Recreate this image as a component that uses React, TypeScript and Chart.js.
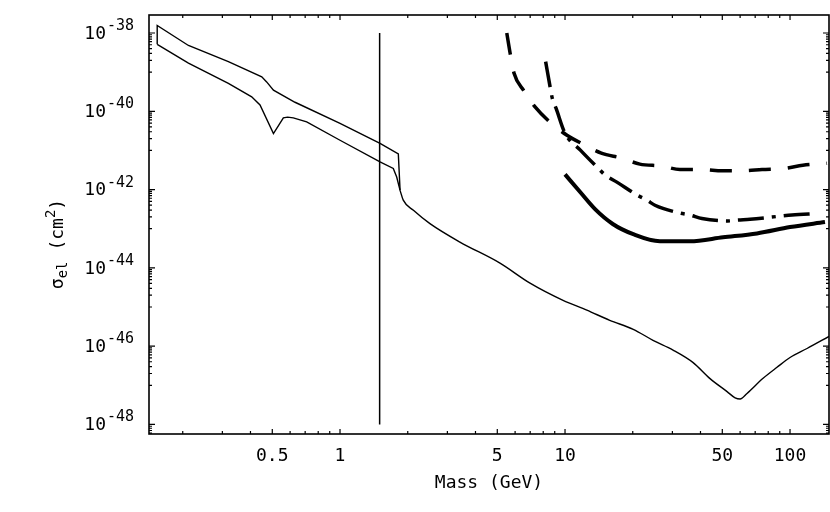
import React, { useEffect, useRef } from 'react';
import { Chart, registerables } from 'chart.js';

Chart.register(...registerables);

// frame limits
const massMin = 0.1416;
const massMax = 149;
const sigmaMin = 5.7e-49;
const sigmaMax = 2.88e-38;

const massTicks = [0.5, 1, 5, 10, 50, 100];
const massMinorTicks = [0.2, 0.3, 0.4, 0.6, 0.7, 0.8, 0.9, 2, 3, 4, 6, 7, 8, 9, 20, 30, 40, 60, 70, 80, 90];
const sigmaTicks = [1e-38, 1e-40, 1e-42, 1e-44, 1e-46, 1e-48];
const sigmaTickPowers = ['-38', '-40', '-42', '-44', '-46', '-48'];

// vertical marker
const markerMass = [1.5, 1.5];
const markerSigma = [1e-38, 1e-48];

// thin band (upper edge starts with the left closing segment)
const bandUpperMass = [0.154, 0.154, 0.212, 0.319, 0.449, 0.472, 0.506, 0.631, 1.0, 1.506, 1.816, 1.849];
const bandUpperSigma = [5.13e-39, 1.55e-38, 4.79e-39, 1.86e-39, 7.59e-40, 5.62e-40, 3.47e-40, 1.7e-40, 4.9e-41, 1.51e-41, 8.13e-42, 9.55e-43];

const bandLowerMass = [0.154, 0.212, 0.319, 0.405, 0.441, 0.506, 0.56, 0.585, 0.62, 0.711, 1.0, 1.506, 1.725, 1.786, 1.849];
const bandLowerSigma = [5.13e-39, 1.7e-39, 5.13e-40, 2.34e-40, 1.45e-40, 2.69e-41, 6.76e-41, 7.1e-41, 6.76e-41, 5.37e-41, 1.82e-41, 5.13e-42, 3.47e-42, 2.09e-42, 9.55e-43];

// thin curve after the two edges meet
const tailMass = [1.849, 1.91, 2.12, 2.51, 3.41, 5.14, 6.99, 9.8, 12.5, 15.8, 20.1, 24.6, 30.2, 37.1, 44.1, 52.5, 57, 60, 64.4, 75.9, 87.5, 100, 119, 149];
const tailSigma = [9.55e-43, 5.37e-43, 2.95e-43, 1.35e-43, 4.57e-44, 1.32e-44, 4.07e-45, 1.48e-45, 8.32e-46, 4.57e-46, 2.69e-46, 1.41e-46, 7.94e-47, 3.8e-47, 1.48e-47, 6.9e-48, 4.79e-48, 4.47e-48, 6.2e-48, 1.51e-47, 2.88e-47, 5.13e-47, 8.71e-47, 1.78e-46];

// long dashed limit
const dashMass = [5.51, 5.7, 5.93, 6.57, 7.36, 8.58, 10.2, 12.0, 14.5, 17.9, 21.5, 27.0, 32.4, 41.0, 49.9, 61.8, 75.1, 95, 114, 146];
const dashSigma = [1.0e-38, 3.09e-39, 9.55e-40, 3.31e-40, 1.29e-40, 5.25e-41, 2.45e-41, 1.45e-41, 8.51e-42, 6.31e-42, 4.47e-42, 3.98e-42, 3.24e-42, 3.24e-42, 3.02e-42, 3.02e-42, 3.24e-42, 3.47e-42, 4.17e-42, 4.68e-42];

// dash-dot limit
const dashDotMass = [8.2, 8.58, 8.78, 9.12, 10.0, 11.7, 13.9, 15.1, 17.0, 20.9, 23.1, 25.1, 32.4, 35.9, 40.6, 53.0, 58.7, 66.4, 90.3, 102, 132];
const dashDotSigma = [1.86e-39, 4.27e-40, 2.14e-40, 1.2e-40, 2.75e-41, 1.02e-41, 3.72e-42, 2.34e-42, 1.55e-42, 7.24e-43, 5.37e-43, 3.98e-43, 2.51e-43, 2.24e-43, 1.82e-43, 1.58e-43, 1.66e-43, 1.74e-43, 2.09e-43, 2.24e-43, 2.45e-43];

// thick solid limit
const solidMass = [10.0, 11.7, 13.6, 16.3, 20.1, 26.4, 35.9, 50.4, 71.3, 100, 143];
const solidSigma = [2.45e-42, 8.51e-43, 3.16e-43, 1.32e-43, 7.24e-44, 4.79e-44, 4.79e-44, 6.03e-44, 7.59e-44, 1.1e-43, 1.48e-43];

const FONT = '"DejaVu Sans Mono", monospace';

const toPoints = (xs: number[], ys: number[]) => xs.map((x, i) => ({ x, y: ys[i] }));

// minor y ticks: 1..9 x 10^(odd) under every labelled power
const sigmaMinorTicks: number[] = [];
for (const major of sigmaTicks) {
    for (let k = 1; k <= 9; k++) {
        const v = (major / 10) * k;
        if (v >= sigmaMin && v < major) sigmaMinorTicks.push(v);
    }
}

const framePlugin = {
    id: 'frame',
    afterDraw(chart: any) {
        const { ctx, chartArea, scales } = chart;
        const { left, right, top, bottom } = chartArea;
        const xs = scales.x;
        const ys = scales.y;
        ctx.save();
        ctx.strokeStyle = '#000';
        ctx.lineWidth = 1.6;
        ctx.strokeRect(left, top, right - left, bottom - top);

        ctx.lineWidth = 1.2;
        ctx.beginPath();
        const xTick = (v: number, len: number) => {
            const px = xs.getPixelForValue(v);
            ctx.moveTo(px, bottom);
            ctx.lineTo(px, bottom - len);
            ctx.moveTo(px, top);
            ctx.lineTo(px, top + len);
        };
        const yTick = (v: number, len: number) => {
            const py = ys.getPixelForValue(v);
            ctx.moveTo(left, py);
            ctx.lineTo(left + len, py);
            ctx.moveTo(right, py);
            ctx.lineTo(right - len, py);
        };
        massTicks.forEach(v => xTick(v, 5));
        massMinorTicks.forEach(v => xTick(v, 3));
        sigmaTicks.forEach(v => yTick(v, 6));
        sigmaMinorTicks.forEach(v => yTick(v, 3));
        ctx.stroke();

        // y tick labels with superscript powers
        ctx.fillStyle = '#000';
        sigmaTicks.forEach((v, i) => {
            const py = ys.getPixelForValue(v);
            ctx.font = `18px ${FONT}`;
            ctx.textAlign = 'right';
            ctx.textBaseline = 'middle';
            ctx.fillText('10', 106, py + 1);
            ctx.font = `15px ${FONT}`;
            ctx.textAlign = 'left';
            ctx.textBaseline = 'alphabetic';
            ctx.fillText(sigmaTickPowers[i], 107, py - 3);
        });

        // y axis title
        ctx.translate(57, 244);
        ctx.rotate(-Math.PI / 2);
        const parts = [
            { t: '\u03c3', size: 18, dy: 0 },
            { t: 'el', size: 14, dy: 4 },
            { t: ' (cm', size: 18, dy: 0 },
            { t: '2', size: 14, dy: -8 },
            { t: ')', size: 18, dy: 0 }
        ];
        let total = 0;
        parts.forEach(p => {
            ctx.font = `${p.size}px ${FONT}`;
            total += ctx.measureText(p.t).width;
        });
        let cx = -total / 2;
        ctx.textAlign = 'left';
        ctx.textBaseline = 'alphabetic';
        parts.forEach(p => {
            ctx.font = `${p.size}px ${FONT}`;
            ctx.fillText(p.t, cx, 6 + p.dy);
            cx += ctx.measureText(p.t).width;
        });
        ctx.restore();
    }
};

export default function App() {
    const canvas = useRef<HTMLCanvasElement>(null);

    useEffect(() => {
        const thin = { borderColor: '#000', borderWidth: 1.4, pointRadius: 0, fill: false };
        const chart = new Chart(canvas.current as HTMLCanvasElement, {
            type: 'line',
            data: {
                datasets: [
                    { ...thin, data: toPoints(markerMass, markerSigma), borderWidth: 1.5 },
                    { ...thin, data: toPoints(bandUpperMass, bandUpperSigma), tension: 0 },
                    { ...thin, data: toPoints(bandLowerMass, bandLowerSigma), tension: 0 },
                    { ...thin, data: toPoints(tailMass, tailSigma), cubicInterpolationMode: 'monotone' },
                    {
                        ...thin, data: toPoints(dashMass, dashSigma), borderWidth: 3.5,
                        borderDash: [22, 17], cubicInterpolationMode: 'monotone'
                    },
                    {
                        ...thin, data: toPoints(dashDotMass, dashDotSigma), borderWidth: 3.5,
                        borderDash: [26, 8, 4, 8], cubicInterpolationMode: 'monotone'
                    },
                    {
                        ...thin, data: toPoints(solidMass, solidSigma), borderWidth: 4,
                        cubicInterpolationMode: 'monotone'
                    }
                ] as any
            },
            options: {
                animation: false,
                responsive: true,
                maintainAspectRatio: false,
                parsing: false,
                layout: { padding: { left: 0, right: 1, top: 15, bottom: 0 } },
                plugins: {
                    legend: { display: false },
                    tooltip: { enabled: false }
                },
                scales: {
                    x: {
                        type: 'logarithmic',
                        min: massMin,
                        max: massMax,
                        grid: { display: false },
                        border: { display: false },
                        afterBuildTicks: (s: any) => {
                            s.ticks = massTicks.map(v => ({ value: v }));
                        },
                        afterFit: (s: any) => {
                            s.height = 78;
                        },
                        ticks: {
                            autoSkip: false,
                            maxRotation: 0,
                            color: '#000',
                            padding: 4,
                            font: { family: FONT, size: 18 },
                            callback: (v: any) => String(v)
                        },
                        title: {
                            display: true,
                            text: 'Mass (GeV)',
                            color: '#000',
                            font: { family: FONT, size: 18 },
                            padding: { top: 0, bottom: 18 }
                        }
                    },
                    y: {
                        type: 'logarithmic',
                        min: sigmaMin,
                        max: sigmaMax,
                        grid: { display: false },
                        border: { display: false },
                        afterBuildTicks: (s: any) => {
                            s.ticks = sigmaTicks.map(v => ({ value: v }));
                        },
                        afterFit: (s: any) => {
                            s.width = 149;
                        },
                        ticks: { display: false }
                    }
                }
            },
            plugins: [framePlugin]
        });
        return () => {
            chart.destroy();
        };
    }, []);

    return (
        <div style={{ position: 'absolute', left: 0, top: 0, width: 830, height: 512, background: '#fff' }}>
            <canvas ref={canvas}></canvas>
        </div>
    );
}
